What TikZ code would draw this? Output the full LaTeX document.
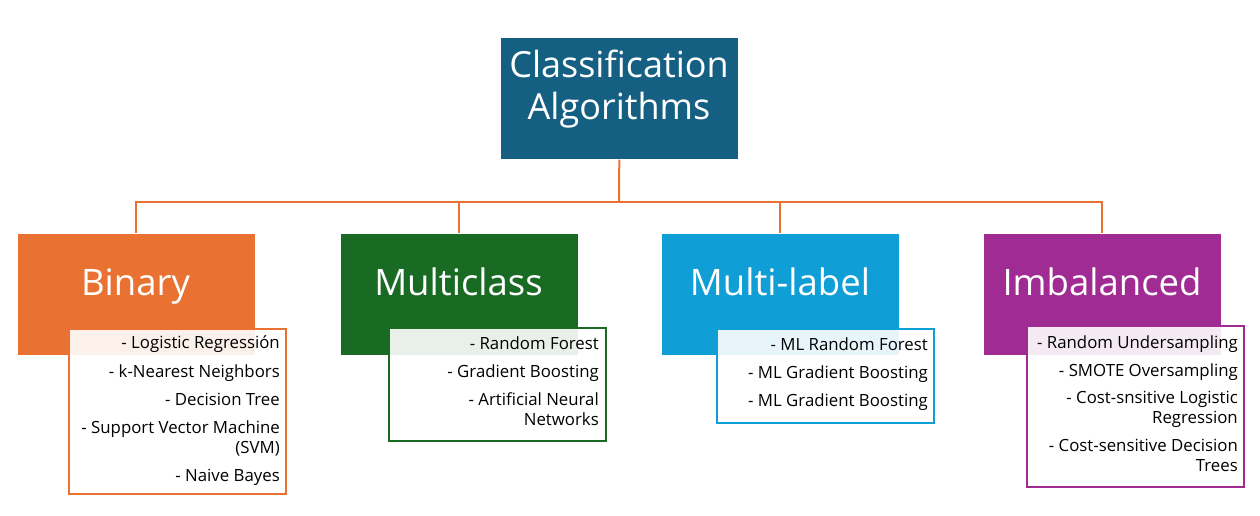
\documentclass[tikz,border=0pt]{standalone}
\usepackage{fontspec}
\setmainfont{Open Sans}
\definecolor{accA}{HTML}{156082}
\definecolor{accB}{HTML}{E97132}
\definecolor{accC}{HTML}{196B24}
\definecolor{accD}{HTML}{0F9ED5}
\definecolor{accE}{HTML}{A02B93}
\begin{document}
\begin{tikzpicture}[x=1pt,y=-1pt,
  box/.style={rectangle, draw=white, line width=0.6pt, anchor=north west, inner sep=0pt, minimum width=238pt, minimum height=122pt},
  cattext/.style={anchor=base, inner sep=0pt, text=white, font=\fontsize{36.5}{42}\selectfont},
  roottext/.style={anchor=base, inner sep=0pt, text=white, align=center, font=\fontsize{36}{42}\selectfont},
  listbox/.style={rectangle, line width=2pt, fill=white, fill opacity=0.9, anchor=north west, inner sep=0pt, minimum width=217pt},
  item/.style={anchor=base east, inner sep=0pt, align=right, text=black, font=\fontsize{16.8}{20}\selectfont},
  conn/.style={draw=accB, line width=2pt}
]
\useasboundingbox (0,0) rectangle (1260,516);
% root
\node[box, fill=accA] (root) at (500,37) {};
\node[roottext] (rootT) at (619,120) {Classification\\Algorithms};
% categories
\node[box, fill=accB] (bin) at (17,233) {};
\node[box, fill=accC] (mul) at (340,233) {};
\node[box, fill=accD] (mlb) at (661,233) {};
\node[box, fill=accE] (imb) at (983,233) {};
\node[cattext] (binT) at (135.5,295) {Binary};
\node[cattext] (mulT) at (458.5,295) {Multiclass};
\node[cattext] (mlbT) at (780,295) {Multi-label};
\node[cattext] (imbT) at (1102,295) {Imbalanced};
% connectors
\coordinate (hub) at (619,202);
\draw[conn] (root.south) -- (hub);
\draw[conn] (hub) -| (bin.north);
\draw[conn] (hub) -| (mul.north);
\draw[conn] (hub) -| (mlb.north);
\draw[conn] (hub) -| (imb.north);
% list boxes
\node[listbox, draw=accB, minimum height=165pt] (binL) at (68,328) {};
\node[listbox, draw=accC, minimum height=113pt] (mulL) at (388,327) {};
\node[listbox, draw=accD, minimum height=94pt] (mlbL) at (716,328) {};
\node[listbox, draw=accE, minimum height=161pt] (imbL) at (1026,325) {};
% binary items
\node[item] (bin1) at (280,348) {- Logistic Regressión};
\node[item] (bin2) at (280,377) {- k-Nearest Neighbors};
\node[item] (bin3) at (280,405) {- Decision Tree};
\node[item] (bin4) at (280,453) {- Support Vector Machine\\(SVM)};
\node[item] (bin5) at (280,481) {- Naive Bayes};
% multiclass items
\node[item] (mul1) at (599,349) {- Random Forest};
\node[item] (mul2) at (599,377) {- Gradient Boosting};
\node[item] (mul3) at (599,425) {- Artificial Neural\\Networks};
% multi-label items
\node[item] (mlb1) at (928,350) {- ML Random Forest};
\node[item] (mlb2) at (928,378) {- ML Gradient Boosting};
\node[item] (mlb3) at (928,406) {- ML Gradient Boosting};
% imbalanced items
\node[item] (imb1) at (1238,348) {- Random Undersampling};
\node[item] (imb2) at (1238,376) {- SMOTE Oversampling};
\node[item] (imb3) at (1238,423) {- Cost-snsitive Logistic\\Regression};
\node[item] (imb4) at (1238,471) {- Cost-sensitive Decision\\Trees};
\end{tikzpicture}
\end{document}
